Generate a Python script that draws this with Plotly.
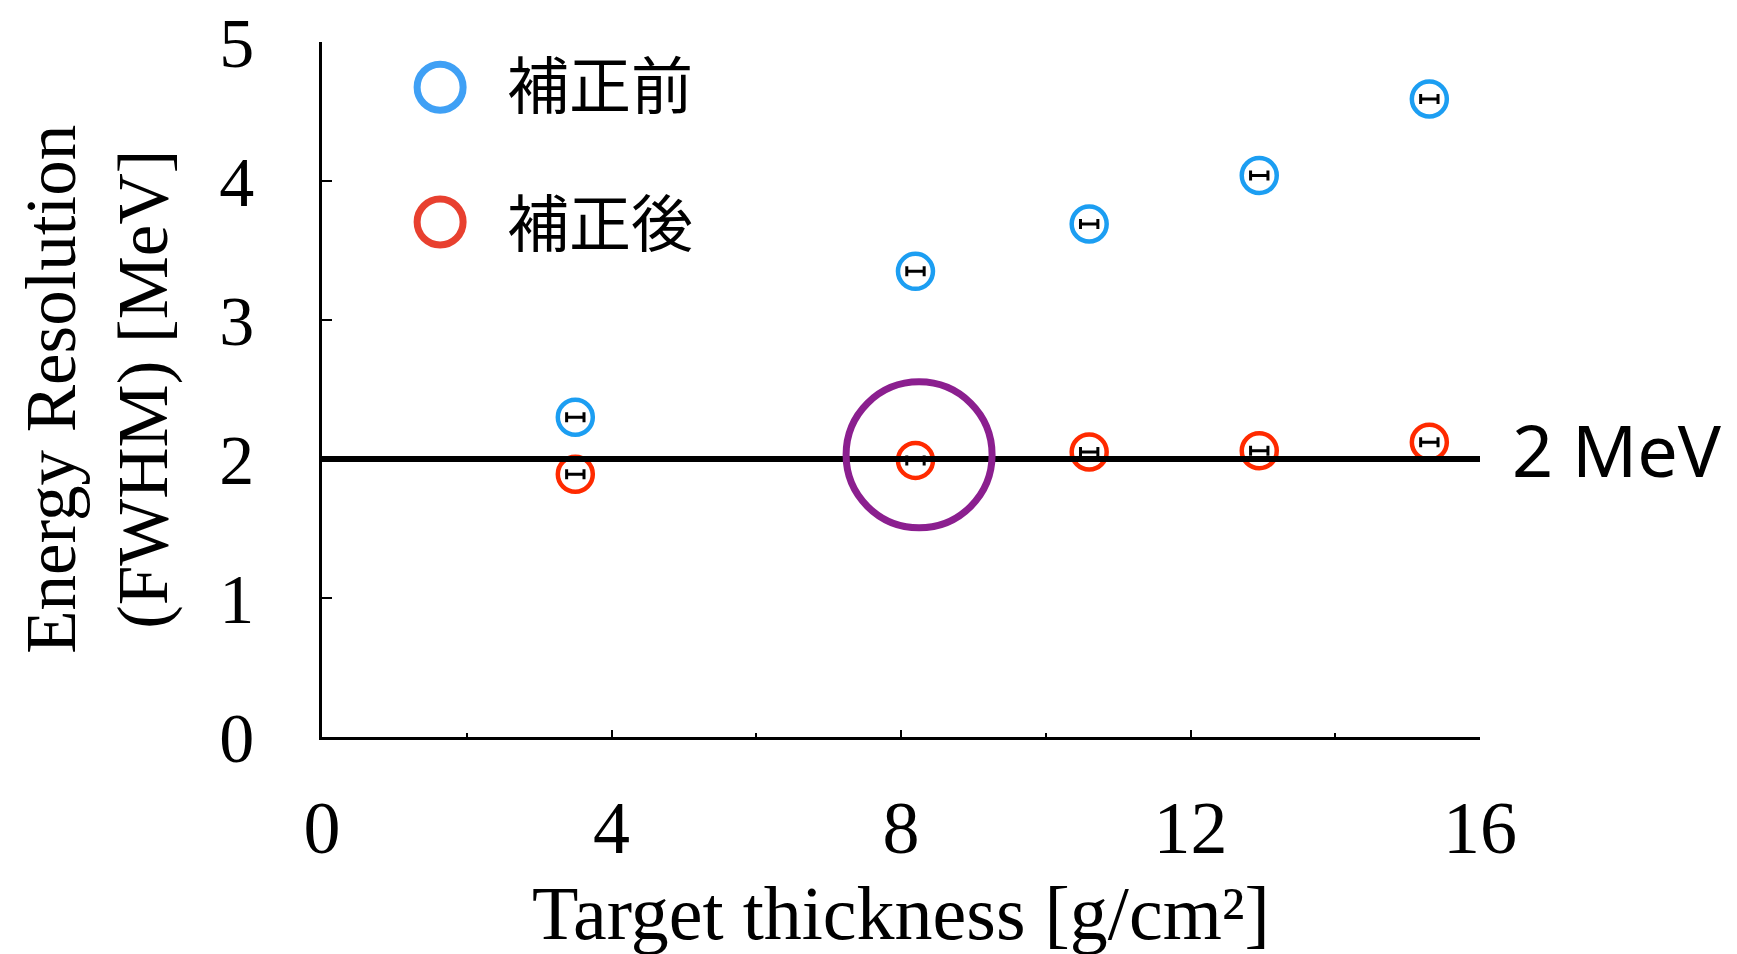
import plotly.graph_objects as go

# ---- data ----
thickness = [3.5, 8.2, 10.6, 12.95, 15.3]
res_before = [2.30, 3.35, 3.69, 4.04, 4.59]
res_after = [1.89, 1.99, 2.05, 2.06, 2.12]
thickness_err = [0.12, 0.12, 0.12, 0.12, 0.12]
legend_labels = ["補正前", "補正後"]
threshold = 2
threshold_label = "2 MeV"
highlight_index = 1
x_ticks = [0, 4, 8, 12, 16]
y_ticks = [0, 1, 2, 3, 4, 5]

BLUE = "#1c9ef2"
RED = "#ff2a00"
LEG_BLUE = "#3fa0f5"
LEG_RED = "#e8402f"
PURPLE = "#8b1f8f"
SERIF = "Liberation Serif, Times New Roman, serif"
SANS = "Noto Sans, Lato, sans-serif"
CJK = "Noto Sans CJK JP, sans-serif"

fig = go.Figure()

err = dict(type="data", array=thickness_err, visible=True, color="black",
           thickness=3, width=5)

fig.add_trace(go.Scatter(
    x=thickness, y=res_before, mode="markers", name=legend_labels[0],
    marker=dict(symbol="circle-open", size=35, color=BLUE, line=dict(width=4.5, color=BLUE)),
    error_x=err, showlegend=False, cliponaxis=False))
fig.add_trace(go.Scatter(
    x=thickness, y=res_after, mode="markers", name=legend_labels[1],
    marker=dict(symbol="circle-open", size=35, color=RED, line=dict(width=4.5, color=RED)),
    error_x=err, showlegend=False, cliponaxis=False))

shapes = []
# threshold line
shapes.append(dict(type="line", xref="x domain", yref="y", x0=0, x1=1,
                   y0=threshold, y1=threshold, line=dict(color="black", width=6), layer="above"))
# highlight circle around chosen point
shapes.append(dict(type="circle", xref="x", yref="y", xsizemode="pixel", ysizemode="pixel",
                   xanchor=thickness[highlight_index] + 0.05, yanchor=res_after[highlight_index] + 0.04,
                   x0=-73, x1=73, y0=-73, y1=73, line=dict(color=PURPLE, width=7), layer="above"))
# legend circles
for i, col in enumerate([LEG_BLUE, LEG_RED]):
    ypos = [0.935, 0.741][i]
    shapes.append(dict(type="circle", xref="paper", yref="paper", xsizemode="pixel",
                       ysizemode="pixel", xanchor=0.102, yanchor=ypos,
                       x0=-23, x1=23, y0=-23, y1=23, line=dict(color=col, width=7)))

annotations = []
for i, lab in enumerate(legend_labels):
    ypos = [0.942, 0.744][i]
    annotations.append(dict(xref="paper", yref="paper", x=0.158, y=ypos, text=lab,
                            showarrow=False, xanchor="left", yanchor="middle",
                            font=dict(family=CJK, size=62, color="black")))
annotations.append(dict(xref="x domain", yref="y", x=1, y=threshold, text=threshold_label,
                        showarrow=False, xanchor="left", yanchor="middle", xshift=30, yshift=10,
                        font=dict(family=SANS, size=72, color="black")))
annotations.append(dict(xref="paper", yref="paper", x=0.5, y=-0.253,
                        text="Target thickness [g/cm²]", showarrow=False,
                        xanchor="center", yanchor="middle",
                        font=dict(family=SERIF, size=76, color="black")))
annotations.append(dict(xref="paper", yref="paper", x=-0.194, y=0.5,
                        text="Energy Resolution<br>(FWHM) [MeV]", showarrow=False,
                        textangle=-90, xanchor="center", yanchor="middle",
                        font=dict(family=SERIF, size=71, color="black")))

fig.update_layout(
    width=1737, height=954,
    margin=dict(l=322, r=257, t=42, b=217, autoexpand=False),
    paper_bgcolor="white", plot_bgcolor="white",
    shapes=shapes, annotations=annotations,
    xaxis=dict(range=[0, 16], tickvals=x_ticks, ticks="inside", ticklen=7, tickwidth=2,
               tickcolor="black", showline=True, linecolor="black", linewidth=2.5,
               showgrid=False, zeroline=False, ticklabelstandoff=24, automargin=False,
               tickfont=dict(family=SERIF, size=74, color="black"),
               minor=dict(dtick=2, ticks="inside", ticklen=4, tickwidth=2, tickcolor="black")),
    yaxis=dict(range=[0, 5], tickvals=y_ticks, ticks="inside", ticklen=10, tickwidth=2,
               tickcolor="black", showline=True, linecolor="black", linewidth=2.5,
               showgrid=False, zeroline=False, ticklabelstandoff=51, automargin=False,
               ticklabeloverflow="allow",
               tickfont=dict(family=SERIF, size=70, color="black")),
)

fig.write_html("out.html")
